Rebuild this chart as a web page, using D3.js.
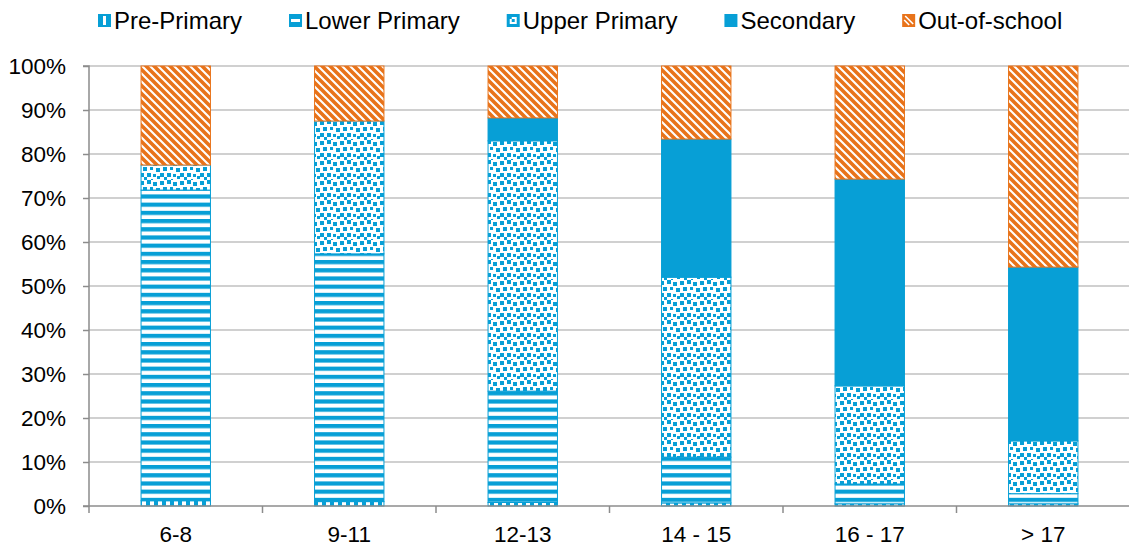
<!DOCTYPE html>
<html><head><meta charset="utf-8">
<script src="https://cdn.jsdelivr.net/npm/d3@7"></script>
<style>body{margin:0;background:#fff}text{font-family:"Liberation Sans",Arial,sans-serif;fill:#000}</style>
</head><body><svg id="c" width="1129" height="548"></svg>
<script>
const categories = ["6-8","9-11","12-13","14 - 15","16 - 17","> 17"];
const seriesNames = ["Pre-Primary","Lower Primary","Upper Primary","Secondary","Out-of-school"];
const prePrimary   = [1.2, 1.0, 0.8, 0.7, 0.5, 0.5];
const lowerPrimary = [70.6, 56.3, 25.3, 10.4, 4.5, 2.3];
const upperPrimary = [5.7, 30.2, 56.9, 40.9, 22.3, 12.0];
const secondary    = [0, 0, 5.2, 31.4, 47.0, 39.5];
const outOfSchool  = [22.5, 12.5, 11.8, 16.6, 25.7, 45.7];
const yTicks = [0,10,20,30,40,50,60,70,80,90,100];

(function(){
const BLUE = "#079fd6", ORANGE = "#e8731a";
const svg = d3.select("#c");
const defs = svg.append("defs");

let p = defs.append("pattern").attr("id","pPre").attr("patternUnits","userSpaceOnUse").attr("width",8).attr("height",8);
p.append("rect").attr("width",8).attr("height",8).attr("fill","#fff");
p.append("rect").attr("x",2).attr("width",4).attr("height",8).attr("fill",BLUE);

p = defs.append("pattern").attr("id","pLow").attr("patternUnits","userSpaceOnUse").attr("width",8).attr("height",8.2).attr("y",506);
p.append("rect").attr("width",8).attr("height",8.2).attr("fill","#fff");
p.append("rect").attr("y",0).attr("width",8).attr("height",4.2).attr("fill",BLUE);

p = defs.append("pattern").attr("id","pUp").attr("patternUnits","userSpaceOnUse").attr("width",20).attr("height",20);
p.append("rect").attr("width",20).attr("height",20).attr("fill","#fff");
const sq = [[0,1,4],[7,0,4],[13,2,4],[3,7,4],[10,7,3],[16,8,4],[0,13,4],[7,13,4],[13,14,3],[4,17,3],[17,16,3],[11,19,2]];
sq.forEach(s=>p.append("rect").attr("x",s[0]).attr("y",s[1]).attr("width",s[2]).attr("height",s[2]).attr("fill",BLUE));

p = defs.append("pattern").attr("id","pOut").attr("patternUnits","userSpaceOnUse").attr("width",8).attr("height",8);
p.append("rect").attr("width",8).attr("height",8).attr("fill","#fff");
p.append("path").attr("d","M-2,-2L10,10M-2,6L2,10M6,-2L10,2").attr("stroke",ORANGE).attr("stroke-width",3.6);

const fills = ["url(#pPre)","url(#pLow)","url(#pUp)",BLUE,"url(#pOut)"];
const strokes = [BLUE,BLUE,BLUE,BLUE,ORANGE];

const L = 89, R = 1130, T = 66, B = 506;
const x = d3.scaleBand().domain(categories).range([L,R]).paddingInner(0.6).paddingOuter(0.3);
const y = d3.scaleLinear().domain([0,100]).range([B,T]);

svg.append("g").selectAll("line").data(yTicks.slice(1)).join("line")
  .attr("x1",L).attr("x2",R).attr("y1",d=>y(d)).attr("y2",d=>y(d))
  .attr("stroke","#c0c0c0").attr("stroke-width",1.3);

const rows = categories.map((c,i)=>({cat:c, s0:prePrimary[i], s1:lowerPrimary[i], s2:upperPrimary[i], s3:secondary[i], s4:outOfSchool[i]}));
const stack = d3.stack().keys(["s0","s1","s2","s3","s4"])(rows);
stack.forEach((layer,k)=>{
  svg.append("g").selectAll("rect").data(layer.filter(d=>d[1]-d[0]>0)).join("rect")
    .attr("x",d=>x(d.data.cat)).attr("width",x.bandwidth())
    .attr("y",d=>y(d[1])).attr("height",d=>y(d[0])-y(d[1]))
    .attr("fill",fills[k]).attr("stroke",strokes[k]).attr("stroke-width",1);
});

const yAxis = d3.axisLeft(y).tickValues(yTicks).tickFormat(d=>d+"%").tickSize(6).tickPadding(17);
const ga = svg.append("g").attr("transform",`translate(${L},0)`).call(yAxis);
ga.select(".domain").attr("stroke","#8c8c8c").attr("stroke-width",1.5).attr("d",`M-6,${T}H0V${B}H-6`);
ga.selectAll(".tick line").attr("stroke","#8c8c8c").attr("stroke-width",1.5);
ga.selectAll("text").style("font-size","22.5px").attr("fill","#000").attr("dy","0.35em");

const xAxis = d3.axisBottom(x).tickSize(0).tickPadding(20);
const gx = svg.append("g").attr("transform",`translate(0,${B})`).call(xAxis);
gx.select(".domain").attr("stroke","#8c8c8c").attr("stroke-width",1.5).attr("d",`M${L},0H${R}`);
gx.selectAll("text").style("font-size","22.5px").attr("fill","#000").attr("dy","0.71em");
const step = x.step();
const bounds = d3.range(categories.length+1).map(i=>x(categories[0]) - (step - x.bandwidth())/2 + i*step);
gx.append("g").selectAll("line").data(bounds).join("line")
  .attr("x1",d=>d).attr("x2",d=>d).attr("y1",0).attr("y2",7).attr("stroke","#8c8c8c").attr("stroke-width",1.5);

// legend icons (scaled-down pattern look)
function icon(g,k){
  if(k===3){ g.append("rect").attr("width",13).attr("height",13).attr("fill",BLUE); return; }
  if(k===4){
    g.append("rect").attr("width",13).attr("height",13).attr("fill",ORANGE);
    g.append("path").attr("d","M3,2L11,10M2,6L7,11").attr("stroke","#fff").attr("stroke-width",1.6);
    return;
  }
  g.append("rect").attr("width",13).attr("height",13).attr("fill",BLUE);
  if(k===0) g.append("rect").attr("x",5).attr("y",2).attr("width",3).attr("height",9).attr("fill","#fff");
  if(k===1) g.append("rect").attr("x",2).attr("y",5).attr("width",9).attr("height",3).attr("fill","#fff");
  if(k===2){
    g.append("rect").attr("x",3).attr("y",3).attr("width",7).attr("height",7).attr("fill","#fff");
    g.append("rect").attr("x",5).attr("y",5).attr("width",3).attr("height",3).attr("fill",BLUE);
    g.append("rect").attr("x",2).attr("y",2).attr("width",3).attr("height",3).attr("fill",BLUE);
  }
}
const lg = svg.append("g");
let lx = 98;
seriesNames.forEach((n,k)=>{
  const g = lg.append("g").attr("transform",`translate(${lx},14)`);
  icon(g,k);
  const t = g.append("text").attr("x",16).attr("y",6.5).attr("dy","0.35em").style("font-size","24px").text(n);
  lx += 16 + t.node().getComputedTextLength() + 47;
});
})();
</script></body></html>
